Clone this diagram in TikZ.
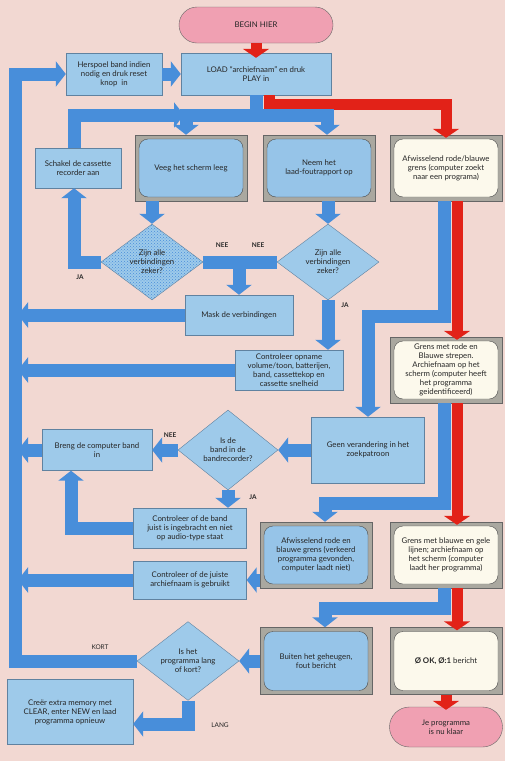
\documentclass[tikz,border=0pt]{standalone}
\usepackage{fontspec}
\setmainfont{Lato}
\usetikzlibrary{shapes.geometric,arrows.meta,patterns}
\definecolor{paper}{RGB}{242,216,210}
\definecolor{flowblue}{RGB}{72,142,218}
\definecolor{boxblue}{RGB}{158,202,234}
\definecolor{boxedge}{RGB}{96,130,160}
\definecolor{screenblue}{RGB}{150,196,232}
\definecolor{screenwhite}{RGB}{252,249,236}
\definecolor{framegray}{RGB}{170,168,160}
\definecolor{flowred}{RGB}{226,34,24}
\definecolor{termpink}{RGB}{240,160,178}

\begin{document}
\begin{tikzpicture}
[
x=1pt, y=-1pt,
every node/.style={font=\fontsize{7.8}{9}\selectfont, text=black!85, align=center, inner sep=1pt},
box/.style={rectangle, draw=boxedge, fill=boxblue, minimum width=#1, minimum height=40pt},
box/.default=110pt,
tv/.style={rectangle, draw=black!60, fill=framegray, minimum width=112pt, minimum height=66pt,
  path picture={\draw[black!70, fill=#1, rounded corners=9pt]
    ([shift={(4pt,4pt)}]path picture bounding box.south west) rectangle
    ([shift={(-4pt,-4pt)}]path picture bounding box.north east);}},
ask/.style={diamond, draw=boxedge, fill=boxblue, minimum width=102pt, minimum height=76pt, inner sep=0pt},
term/.style={rectangle, rounded corners=18pt, draw=black!60, fill=termpink, minimum width=#1, minimum height=36pt},
flow/.style={draw=flowblue, line width=13pt, -{Triangle[width=25pt,length=10pt]}},
bar/.style={draw=flowblue, line width=13pt},
redflow/.style={draw=flowred, line width=11pt, -{Triangle[width=26pt,length=9pt]}},
lbl/.style={font=\fontsize{6.5}{7}\selectfont\bfseries}
]
\useasboundingbox (0,0) rectangle (505,761);
\fill[paper] (0,0) rectangle (505,761);

\node[term=154pt] (begin) at (256,25) {BEGIN HIER};
\node[box=150pt, minimum height=42pt] (load) at (256,74) {LOAD “archiefnaam” en druk\\PLAY in};
\node[box=96pt, minimum height=42pt] (herspoel) at (114,74) {Herspoel band indien\\nodig en druk reset\\knop~~in};
\node[box=86pt] (schakel) at (78,168) {Schakel de cassette\\recorder aan};
\node[tv=screenblue] (veeg) at (191,168) {Veeg het scherm leeg};
\node[tv=screenblue] (neem) at (319,168) {Neem het\\laad-foutrapport op};
\node[tv=screenwhite] (afw1) at (446,168) {Afwisselend rode/blauwe\\grens (computer zoekt\\naar een programa)};
\node[ask, preaction={fill=boxblue}, pattern=crosshatch dots, pattern color=flowblue] (zijn1) at (152,262) {Zijn alle\\verbindingen\\zeker?};
\node[ask] (zijn2) at (328,262) {Zijn alle\\verbindingen\\zeker?};
\node[box=108pt] (mask) at (239,315) {Mask de verbindingen};
\node[box=108pt] (opname) at (289,370) {Controleer opname\\volume/toon, batterijen,\\band, cassettekop en\\cassette snelheid};
\node[tv=screenwhite] (grens1) at (446,370) {Grens met rode en\\Blauwe strepen.\\Archiefnaam op het\\scherm (computer heeft\\het programma\\geidentificeerd)};
\node[box=113pt, minimum height=66pt] (geen) at (368,450) {Geen verandering in het\\zoekpatroon};
\node[ask, minimum width=100pt, minimum height=80pt] (band) at (228,450) {Is de\\band in de\\bandrecorder?};
\node[box=110pt, minimum height=41pt] (breng) at (97,450) {Breng de computer band\\in};
\node[box=113pt] (ctrlband) at (190,528) {Controleer of de band\\juist is ingebracht en niet\\op audio-type staat};
\node[tv=screenblue] (afw2) at (316,555) {Afwisselend rode en\\blauwe grens (verkeerd\\programma gevonden,\\computer laadt niet)};
\node[tv=screenwhite] (grens2) at (446,555) {Grens met blauwe en gele\\lijnen; archiefnaam op\\het scherm (computer\\laadt her programma)};
\node[box=113pt, minimum height=38pt] (ctrlnaam) at (190,580) {Controleer of de juiste\\archiefnaam is gebruikt};
\node[tv=screenblue, minimum height=67pt] (buiten) at (316,661) {Buiten het geheugen,\\fout bericht};
\node[tv=screenwhite, minimum height=67pt] (ok) at (446,661) {\textbf{Ø OK, Ø:1} bericht};
\node[ask] (lang) at (188,661) {Is het\\programma lang\\of kort?};
\node[box=126pt, minimum height=65pt] (creer) at (70,712) {Creër extra memory met\\CLEAR, enter NEW en laad\\programma opnieuw};
\node[term=113pt, minimum height=40pt, rounded corners=20pt] (klaar) at (446,727) {Je programma\\is nu klaar};

\coordinate (rail) at (15,0);
\coordinate (railtip) at (18,0);
\coordinate (split) at (256,115);

\draw[redflow] (begin.south) -- ([yshift=-5pt]load.north);
\draw[flow] (herspoel) -- (load);
\draw[flow] (lang.west) -| (rail |- herspoel.west) -- (herspoel.west);
\foreach \src in {mask, opname, breng, ctrlnaam}
	\draw[flow] (\src.west) -- (\src.west -| railtip);

\draw[redflow] ([xshift=13pt]load.south) -- ++(0,9) -| ([yshift=-3pt]afw1.north);
\draw[flow] (load.south) -- (split) -| ([xshift=-5pt]veeg.north);
\draw[flow] (split) -| ([xshift=8pt]neem.north);
\draw[flow] ([xshift=-4pt]schakel.north) |- ([xshift=-72pt]split);

\draw[flow] (veeg.south -| zijn1.north) -- (zijn1.north);
\draw[flow] (neem.south -| zijn2.north) -- (zijn2.north);
\draw[flow] (zijn1.west) -| ([xshift=-4pt]schakel.south);
\draw[bar] (zijn1.east) -- (zijn2.west);
\draw[flow] (zijn1.east -| mask.north) -- (mask.north);
\draw[flow] (zijn2.south) -- (zijn2.south |- opname.north);

\draw[flow] ([xshift=-2pt]afw1.south) -- ++(0,115) -| (geen.north);
\draw[redflow] ([xshift=11pt]afw1.south) -- ([xshift=11pt,yshift=-3pt]grens1.north);
\draw[flow] (geen) -- (band);
\draw[flow] (band) -- (breng);
\draw[flow] (band.south) -- (band.south |- ctrlband.north);
\draw[flow] (ctrlband.west) -| ([xshift=-26pt]breng.south);

\draw[flow] ([xshift=-2pt]grens1.south) -- ++(0,100) -| ([xshift=9pt]afw2.north);
\draw[redflow] ([xshift=11pt]grens1.south) -- ([xshift=11pt,yshift=-3pt]grens2.north);
\draw[flow] (afw2.west |- ctrlnaam.east) -- (ctrlnaam.east);

\draw[flow] ([xshift=-2pt]grens2.south) -- ++(0,20) -| ([xshift=9pt]buiten.north);
\draw[redflow] ([xshift=11pt]grens2.south) -- ([xshift=11pt,yshift=-3pt]ok.north);
\draw[redflow] (ok.south) -- ([yshift=-3pt]klaar.north);
\draw[flow] (buiten) -- (lang);
\draw[flow] (lang.south) |- ([yshift=-12pt]creer.east);

\node[lbl] (nee1) at (222,245) {NEE};
\node[lbl] (nee2) at (258,245) {NEE};
\node[lbl] (ja1) at (80,277) {JA};
\node[lbl] (ja2) at (345,305) {JA};
\node[lbl] (nee3) at (170,435) {NEE};
\node[lbl] (ja3) at (253,497) {JA};
\node[lbl, font=\fontsize{6.5}{7}\selectfont] (kort) at (100,647) {KORT};
\node[lbl, font=\fontsize{6.5}{7}\selectfont] (langlbl) at (220,725) {LANG};
\end{tikzpicture}
\end{document}
